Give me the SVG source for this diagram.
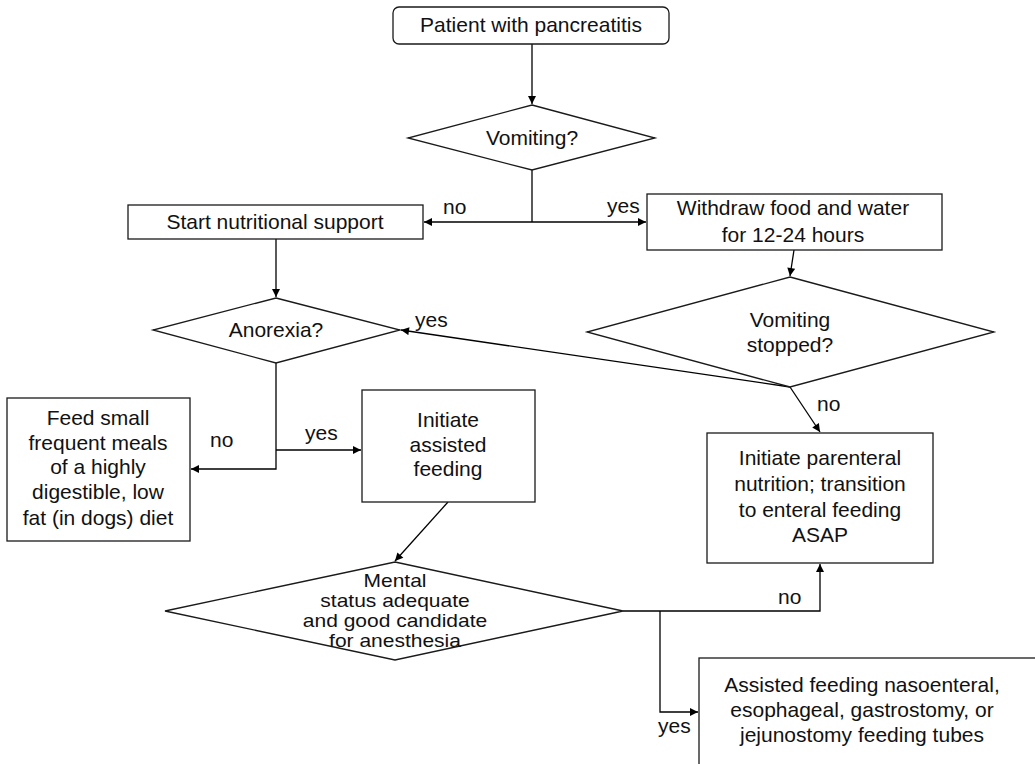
<svg xmlns="http://www.w3.org/2000/svg" width="1035" height="764" viewBox="0 0 1035 764">
  <style>
    .shape { fill: #fff; stroke: #1a1a1a; stroke-width: 1.3; }
    .edge { fill: none; stroke: #000; stroke-width: 1.3; }
    text { font-family: "Liberation Sans", Arial, sans-serif; font-size: 21px; fill: #111; }
    .c { text-anchor: middle; }
    .tight { font-size: 17.5px; }
  </style>
  <defs>
    <marker id="arrow" viewBox="0 0 10 10" refX="10" refY="5" markerWidth="9" markerHeight="8" markerUnits="userSpaceOnUse" orient="auto">
      <path d="M0,0 L10,5 L0,10 z" fill="#000"/>
    </marker>
  </defs>
  <rect width="1035" height="764" fill="#fff"/>

  <!-- connectors -->
  <g id="connectors">
    <line class="edge" x1="532" y1="44" x2="532" y2="104" marker-end="url(#arrow)"/>
    <line class="edge" x1="532" y1="170" x2="532" y2="222"/>
    <line class="edge" x1="532" y1="222" x2="424" y2="222" marker-end="url(#arrow)"/>
    <line class="edge" x1="532" y1="222" x2="646" y2="222" marker-end="url(#arrow)"/>
    <line class="edge" x1="276" y1="239" x2="276" y2="297" marker-end="url(#arrow)"/>
    <line class="edge" x1="794" y1="250" x2="790" y2="276" marker-end="url(#arrow)"/>
    <line class="edge" x1="790" y1="387" x2="401" y2="330" marker-end="url(#arrow)"/>
    <line class="edge" x1="790" y1="387" x2="820" y2="432" marker-end="url(#arrow)"/>
    <polyline class="edge" points="276,363 276,469 191,469" marker-end="url(#arrow)"/>
    <line class="edge" x1="276" y1="450" x2="361" y2="450" marker-end="url(#arrow)"/>
    <line class="edge" x1="448" y1="502" x2="395" y2="561" marker-end="url(#arrow)"/>
    <polyline class="edge" points="623,611 820,611 820,564" marker-end="url(#arrow)"/>
    <polyline class="edge" points="660,611 660,712 698,712" marker-end="url(#arrow)"/>
    <text x="443" y="214">no</text>
    <text x="607" y="213">yes</text>
    <text x="415" y="327">yes</text>
    <text x="817" y="411">no</text>
    <text x="210" y="447">no</text>
    <text x="305" y="440">yes</text>
    <text x="778" y="604">no</text>
    <text x="658" y="733">yes</text>
  </g>

  <g id="start">
    <rect class="shape" x="393" y="7" width="276" height="37" rx="6"/>
    <text class="c" x="531" y="32">Patient with pancreatitis</text>
  </g>

  <g id="vomiting">
    <polygon class="shape" points="532,105 655,138 532,170 408,138"/>
    <text class="c" x="532" y="145">Vomiting?</text>
  </g>

  <g id="nutrition">
    <rect class="shape" x="128" y="205" width="295" height="34"/>
    <text class="c" x="275" y="229">Start nutritional support</text>
  </g>

  <g id="withdraw">
    <rect class="shape" x="647" y="194" width="295" height="56"/>
    <text class="c" x="793" y="215">Withdraw food and water</text>
    <text class="c" x="793" y="242">for 12-24 hours</text>
  </g>

  <g id="anorexia">
    <polygon class="shape" points="276,298 400,330 276,363 153,330"/>
    <text class="c" x="276" y="337">Anorexia?</text>
  </g>

  <g id="stopped">
    <polygon class="shape" points="790,277 994,332 790,387 587,332"/>
    <text class="c" x="790" y="327">Vomiting</text>
    <text class="c" x="790" y="352">stopped?</text>
  </g>

  <g id="small-meals">
    <rect class="shape" x="7" y="398" width="183" height="143"/>
    <text class="c" x="98" y="425">Feed small</text>
    <text class="c" x="98" y="450">frequent meals</text>
    <text class="c" x="98" y="474">of a highly</text>
    <text class="c" x="98" y="499">digestible, low</text>
    <text class="c" x="98" y="525">fat (in dogs) diet</text>
  </g>

  <g id="assisted">
    <rect class="shape" x="362" y="390" width="173" height="112"/>
    <text class="c" x="448" y="427">Initiate</text>
    <text class="c" x="448" y="452">assisted</text>
    <text class="c" x="448" y="476">feeding</text>
  </g>

  <g id="parenteral">
    <rect class="shape" x="707" y="433" width="226" height="130"/>
    <text class="c" x="820" y="465">Initiate parenteral</text>
    <text class="c" x="820" y="491">nutrition; transition</text>
    <text class="c" x="820" y="517">to enteral feeding</text>
    <text class="c" x="820" y="542">ASAP</text>
  </g>

  <g id="mental">
    <polygon class="shape" points="395,562 623,611 395,660 165,611"/>
    <g transform="translate(395,0) scale(1.2,1)">
      <text class="c tight" x="0" y="587">Mental</text>
      <text class="c tight" x="0" y="607">status adequate</text>
      <text class="c tight" x="0" y="627">and good candidate</text>
      <text class="c tight" x="0" y="647">for anesthesia</text>
    </g>
  </g>

  <g id="tubes">
    <rect class="shape" x="699" y="658" width="345" height="120"/>
    <text class="c" x="862" y="692">Assisted feeding nasoenteral,</text>
    <text class="c" x="862" y="717">esophageal, gastrostomy, or</text>
    <text class="c" x="862" y="742">jejunostomy feeding tubes</text>
  </g>
</svg>
